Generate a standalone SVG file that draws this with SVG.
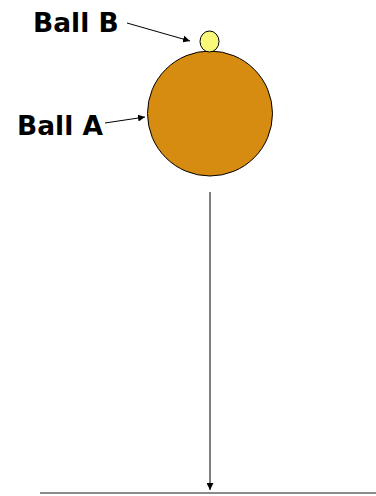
<svg xmlns="http://www.w3.org/2000/svg" width="376" height="496" viewBox="0 0 376 496">
<style>
.lbl{font-family:"DejaVu Sans",Verdana,sans-serif;font-weight:bold;font-size:26.5px;fill:#000}
.ln{stroke:#000;stroke-width:1;fill:none}
</style>
<defs>
<marker id="ah" viewBox="0 0 10 10" refX="10" refY="5" markerWidth="7" markerHeight="7" markerUnits="userSpaceOnUse" orient="auto">
<path d="M0,0 L10,5 L0,10 Z" fill="#000"/>
</marker>
</defs>
<rect width="376" height="496" fill="#fff"/>
<g id="ballA">
<circle cx="210" cy="113.5" r="62.5" fill="#D68C10" stroke="#000" stroke-width="1"/>
</g>
<g id="ballB">
<ellipse cx="209.5" cy="41.5" rx="9.5" ry="10.5" fill="#F8F87A" stroke="#000" stroke-width="1"/>
</g>
<g id="ground">
<line x1="40" y1="493" x2="376" y2="493" stroke="#666" stroke-width="1.5"/>
</g>
<g id="labelB"><text class="lbl" x="33" y="32">Ball B</text></g>
<g id="labelA"><text class="lbl" x="17" y="135">Ball A</text></g>
<g id="connectors">
<line class="ln" x1="127" y1="23" x2="190" y2="41" marker-end="url(#ah)"/>
<line class="ln" x1="105" y1="123" x2="145" y2="117" marker-end="url(#ah)"/>
<line class="ln" x1="210" y1="192" x2="210" y2="490" marker-end="url(#ah)"/>
</g>
</svg>
